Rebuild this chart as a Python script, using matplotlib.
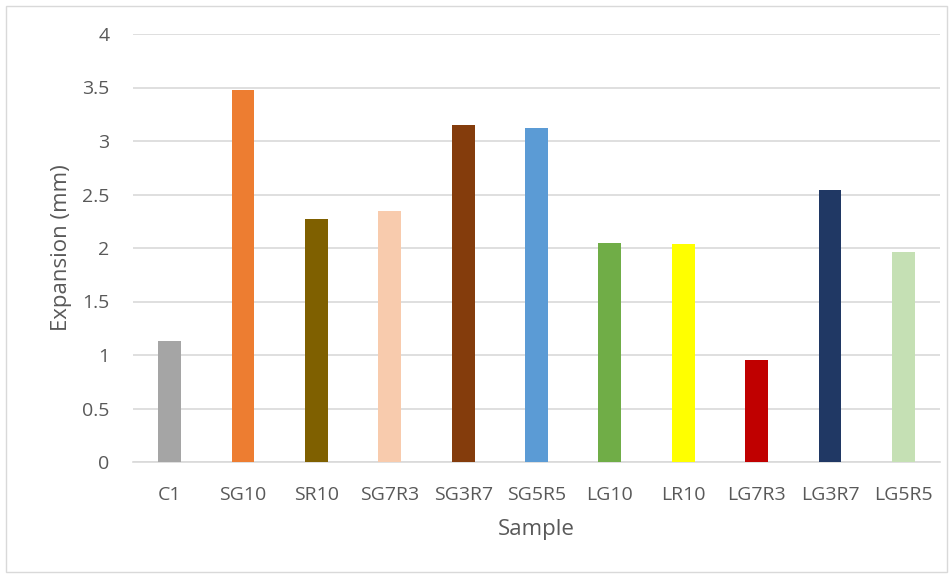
import matplotlib.pyplot as plt
from matplotlib.patches import Rectangle

samples = ['C1', 'SG10', 'SR10', 'SG7R3', 'SG3R7', 'SG5R5',
           'LG10', 'LR10', 'LG7R3', 'LG3R7', 'LG5R5']
expansion = [1.13, 3.48, 2.27, 2.35, 3.15, 3.12, 2.05, 2.04, 0.95, 2.54, 1.96]
colors = ['#A5A5A5', '#ED7D31', '#7F6000', '#F8CBAD', '#843C0C', '#5B9BD5',
          '#70AD47', '#FFFF00', '#C00000', '#203864', '#C5E0B4']
yticks = [0, 0.5, 1, 1.5, 2, 2.5, 3, 3.5, 4]

text_color = '#595959'
plt.rcParams['font.family'] = ['Open Sans', 'DejaVu Sans']

fig = plt.figure(figsize=(9.53, 5.78), dpi=100)
ax = fig.add_axes([133 / 953, 1 - 462 / 578, (940 - 133) / 953, (462 - 34) / 578])

x = range(len(samples))
ax.bar(x, expansion, width=0.31, color=colors, zorder=3)

ax.set_xlim(-0.5, len(samples) - 0.5)
ax.set_ylim(0, 4)
ax.set_yticks(yticks)
ax.set_yticklabels(['0', '0.5', '1', '1.5', '2', '2.5', '3', '3.5', '4'])
ax.set_xticks(list(x))
ax.set_xticklabels(samples)
ax.grid(axis='y', color='#D9D9D9', linewidth=1.2, zorder=0)

for side in ['top', 'right', 'left']:
    ax.spines[side].set_visible(False)
ax.spines['bottom'].set_color('#D9D9D9')
ax.spines['bottom'].set_linewidth(1.2)

ax.tick_params(axis='both', length=0, labelsize=14, colors=text_color)
ax.tick_params(axis='x', pad=17)
ax.tick_params(axis='y', pad=17)

ax.set_xlabel('Sample', fontsize=16, color=text_color, labelpad=11)
ax.set_ylabel('Expansion (mm)', fontsize=16, color=text_color, labelpad=7)

# chart-area border
fig.patches.append(Rectangle((6 / 953, 6 / 578), 941 / 953, 566 / 578,
                             transform=fig.transFigure, fill=False,
                             edgecolor='#D9D9D9', linewidth=1))

fig.savefig('out.png', dpi=100)
